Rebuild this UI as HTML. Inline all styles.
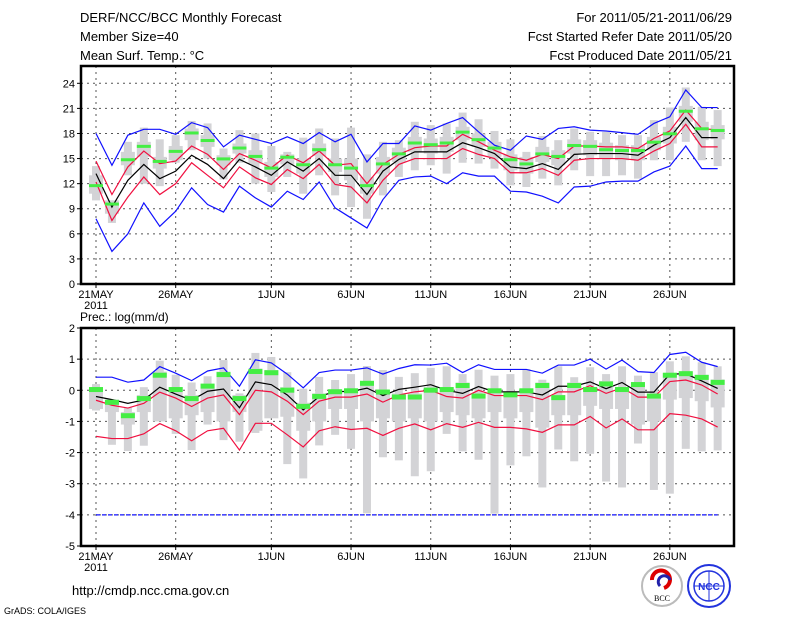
<!DOCTYPE html>
<html><head><meta charset="utf-8">
<style>
html,body{margin:0;padding:0;background:#fff;}
svg{display:block;font-family:"Liberation Sans",sans-serif;}
</style></head>
<body>
<svg id="chart" width="800" height="618" viewBox="0 0 800 618">
  <g font-size="13" fill="#000">
    <text x="80" y="22">DERF/NCC/BCC Monthly Forecast</text>
    <text x="80" y="41">Member Size=40</text>
    <text x="80" y="60">Mean Surf. Temp.: °C</text>
    <text x="732" y="22" text-anchor="end">For 2011/05/21-2011/06/29</text>
    <text x="732" y="41" text-anchor="end">Fcst Started Refer Date 2011/05/20</text>
    <text x="732" y="60" text-anchor="end">Fcst Produced Date 2011/05/21</text>
  </g>
  <g id="top"></g>
  <g id="bot"></g>
  <text x="80" y="321" font-size="12">Prec.: log(mm/d)</text>
  <text x="72" y="595" font-size="13">http://cmdp.ncc.cma.gov.cn</text>
  <text x="4" y="614" font-size="9">GrADS: COLA/IGES</text>
  <g>
    <circle cx="662" cy="586" r="20" fill="#fff" stroke="#bbb" stroke-width="2"/>
    <path d="M652 580 a9 9 0 1 1 12 8" fill="none" stroke="#d00" stroke-width="4"/>
    <path d="M670 580 a6 6 0 1 0 -10 6" fill="none" stroke="#22a" stroke-width="3"/>
    <text x="662" y="601" font-size="8" text-anchor="middle" font-family="Liberation Serif,serif">BCC</text>
  </g>
  <g>
    <circle cx="709" cy="586" r="21" fill="#fff" stroke="#23d" stroke-width="2"/>
    <ellipse cx="709" cy="586" rx="15" ry="15" fill="none" stroke="#23d" stroke-width="1.5"/>
    <line x1="694" y1="586" x2="724" y2="586" stroke="#23d"/>
    <line x1="709" y1="571" x2="709" y2="601" stroke="#23d"/>
    <text x="709" y="590" font-size="10" text-anchor="middle" fill="#23d" font-weight="bold">NCC</text>
  </g>
</svg>
<script>
// Temperature panel data (°C)
const tBlueHi=[18.0,14.2,17.8,18.5,18.5,17.9,19.3,18.7,16.4,17.8,17.3,16.8,17.6,16.8,18.1,17.0,17.9,14.6,16.8,16.8,18.9,18.4,19.2,19.9,18.2,16.6,16.0,17.7,17.3,18.6,18.8,18.4,18.3,18.1,17.9,19.2,20.0,23.2,21.1,21.1];
const tRedHi=[14.7,10.7,14.0,15.9,14.4,14.7,16.5,15.5,13.7,15.6,14.8,13.9,15.4,14.5,15.9,14.2,14.4,12.0,14.3,15.5,16.3,16.5,16.5,17.9,17.0,16.0,15.2,14.8,15.5,15.0,16.5,16.5,16.4,16.4,16.2,17.4,18.3,20.8,18.6,18.4];
const tMean=[13.2,9.2,12.4,14.3,12.6,13.5,15.4,14.3,12.6,14.9,14.0,13.0,14.6,13.5,15.0,13.0,13.0,10.7,13.5,14.9,15.8,15.8,15.8,16.9,16.3,15.6,14.0,13.8,14.4,13.7,15.5,15.6,15.6,15.6,15.4,16.6,17.5,19.9,17.5,17.5];
const tRedLo=[12.2,7.6,10.4,12.8,10.7,12.0,14.5,13.0,11.5,14.0,12.7,11.9,13.7,12.6,14.3,11.9,11.6,9.7,12.4,14.3,15.0,15.0,15.0,16.2,15.5,15.0,13.3,13.3,13.8,13.0,14.8,15.0,15.0,15.0,14.8,15.9,16.8,19.1,16.4,16.4];
const tBlueLo=[7.8,3.9,6.0,9.7,6.9,8.7,11.5,9.5,8.6,11.7,10.3,9.2,11.1,10.1,12.2,9.1,7.9,6.7,10.1,12.4,12.8,12.9,12.0,13.3,12.9,12.9,11.1,11.0,10.5,9.7,11.6,11.7,12.2,12.3,12.3,13.4,14.1,16.5,13.8,13.8];
const tGreen=[11.7,9.5,14.8,16.4,14.6,15.8,18.0,17.1,14.9,16.2,15.2,13.8,15.1,14.2,16.0,14.2,13.8,11.7,14.3,15.5,16.8,16.6,16.8,18.1,17.2,16.2,14.8,14.3,15.5,15.2,16.5,16.4,16.0,15.9,15.9,16.9,17.9,20.6,18.5,18.3];
const tMax=[14.1,10.0,17.0,18.7,17.3,17.8,19.5,19.2,16.2,18.4,18.0,16.5,15.8,17.5,18.6,17.4,18.7,15.5,17.0,17.2,19.4,19.0,19.2,20.5,19.7,18.3,17.3,15.8,17.7,17.2,18.6,18.2,18.2,17.8,17.8,19.6,21.1,23.5,21.2,20.8];
const tMin=[10.0,7.3,13.0,12.0,11.7,14.5,16.0,15.0,12.5,14.5,12.0,11.0,12.8,10.8,13.0,10.6,9.2,7.8,10.6,12.8,13.6,14.2,13.2,14.5,14.4,13.8,11.8,11.6,12.6,11.8,13.6,12.9,12.9,13.0,12.6,14.8,14.8,17.0,14.8,14.1];
const tBoxHi=[13.0,10.0,15.8,17.0,15.2,16.5,18.6,17.8,15.4,16.8,16.0,14.6,15.5,15.0,16.8,15.0,15.0,12.8,15.2,16.3,17.6,17.4,17.6,18.8,18.0,17.0,15.5,15.2,16.4,16.0,17.3,17.2,16.9,16.6,16.6,17.6,18.8,21.3,19.4,19.0];
const tBoxLo=[10.8,8.4,14.2,15.2,13.8,14.8,17.2,16.4,14.2,15.6,14.4,12.8,14.3,13.2,15.3,13.4,12.4,10.8,13.2,14.6,15.8,15.6,15.8,17.2,16.4,15.2,13.6,13.2,14.6,14.2,15.6,15.4,15.0,14.8,14.8,16.0,16.8,19.4,17.2,17.3];
const tTicks=[0,3,6,9,12,15,18,21,24];
// Precipitation panel data (log mm/d)
const pBlueHi=[0.42,0.42,0.26,0.33,0.76,0.55,0.31,0.62,0.72,0.13,0.98,0.88,0.52,0.08,0.57,0.65,0.65,0.72,0.52,0.70,0.82,0.81,0.87,0.57,0.82,0.67,0.67,0.67,0.55,0.81,0.81,1.0,0.68,0.97,0.60,0.57,1.15,1.22,0.90,0.76];
const pRedHi=[-0.32,-0.48,-0.57,-0.42,-0.06,-0.25,-0.52,-0.25,-0.15,-0.78,0.0,-0.05,-0.35,-0.78,-0.35,-0.22,-0.22,-0.12,-0.38,-0.15,-0.05,0.0,-0.2,-0.25,0.0,-0.17,-0.17,-0.17,-0.3,-0.05,-0.05,0.15,-0.1,0.08,-0.22,-0.22,0.28,0.33,0.17,-0.12];
const pMean=[-0.2,-0.3,-0.42,-0.31,0.1,-0.12,-0.32,-0.03,0.04,-0.56,0.27,0.18,-0.15,-0.63,-0.2,-0.04,-0.04,0.07,-0.17,0.03,0.1,0.18,0.0,-0.1,0.12,-0.05,-0.05,-0.05,-0.15,0.13,0.13,0.27,0.05,0.25,-0.06,-0.06,0.52,0.53,0.3,0.06];
const pRedLo=[-1.48,-1.55,-1.55,-1.4,-1.07,-1.3,-1.62,-1.3,-1.22,-1.92,-1.06,-1.06,-1.43,-1.82,-1.3,-1.17,-1.26,-1.22,-1.45,-1.22,-1.08,-1.27,-1.07,-1.19,-1.03,-1.19,-1.19,-1.24,-1.35,-1.11,-1.11,-0.84,-1.21,-0.92,-1.27,-1.27,-0.75,-0.8,-0.92,-1.18];
const pBlueLo=[-4,-4,-4,-4,-4,-4,-4,-4,-4,-4,-4,-4,-4,-4,-4,-4,-4,-4,-4,-4,-4,-4,-4,-4,-4,-4,-4,-4,-4,-4,-4,-4,-4,-4,-4,-4,-4,-4,-4,-4];
const pGreen=[0.04,-0.37,-0.8,-0.25,0.5,0.04,-0.25,0.15,0.52,-0.25,0.62,0.58,0.02,-0.5,-0.18,-0.03,0.0,0.24,-0.04,-0.2,-0.2,0.02,0.04,0.17,-0.17,0.0,-0.13,0.0,0.17,-0.22,0.17,0.04,0.22,0.04,0.2,-0.17,0.5,0.55,0.43,0.27];
const pMax=[0.2,-0.3,-0.55,0.1,0.95,0.5,0.25,0.45,0.97,-0.1,1.2,1.07,0.58,0.05,0.43,0.33,0.52,0.78,0.65,0.43,0.55,0.72,0.77,0.52,0.66,0.47,0.52,0.68,0.34,0.77,0.42,0.74,0.52,0.77,0.47,0.58,0.93,1.09,0.9,0.77];
const pMin=[-0.65,-1.75,-1.95,-1.78,-0.98,-1.4,-1.92,-1.1,-1.6,-1.65,-1.37,-0.88,-2.37,-2.83,-1.77,-1.43,-1.88,-3.95,-2.15,-2.25,-2.76,-2.6,-1.4,-1.96,-2.23,-3.96,-2.41,-2.12,-3.12,-1.9,-2.28,-2.04,-2.93,-3.12,-1.71,-3.2,-3.32,-1.88,-1.96,-1.93];
const pBoxHi=[0.1,-0.3,-0.7,-0.15,0.6,0.1,-0.15,0.2,0.6,-0.15,0.7,0.65,0.1,-0.4,-0.1,0.0,0.05,0.3,0.0,-0.1,-0.1,0.1,0.1,0.25,-0.1,0.05,-0.05,0.05,0.25,-0.15,0.25,0.1,0.3,0.1,0.25,-0.1,0.55,0.6,0.5,0.35];
const pBoxLo=[-0.6,-0.7,-1.1,-0.7,-1.0,-0.9,-0.8,-0.7,-1.0,-0.7,-1.3,-0.9,-0.85,-1.3,-1.0,-0.6,-0.6,-1.0,-0.9,-1.0,-0.9,-1.0,-0.7,-0.8,-0.9,-0.7,-0.9,-0.7,-1.2,-0.8,-0.8,-0.5,-0.6,-0.6,-1.1,-1.0,-0.3,-0.25,-0.35,-0.55];
const pTicks=[-5,-4,-3,-2,-1,0,1,2];
// x axis
const dateLabels=["21MAY","26MAY","1JUN","6JUN","11JUN","16JUN","21JUN","26JUN"];
const dateIdx=[0,5,11,16,21,26,31,36];

const NS="http://www.w3.org/2000/svg";
const X0=96, DX=15.94, LEFT=81, RIGHT=734;
function xs(i){return X0+i*DX;}
function mk(tag,attrs,parent){const e=document.createElementNS(NS,tag);for(const k in attrs)e.setAttribute(k,attrs[k]);parent.appendChild(e);return e;}

function panel(g,top,bottom,vmin,vmax,ticks,d,frameTop){
  const ys=v=>bottom-(v-vmin)/(vmax-vmin)*(bottom-top);
  // grid
  ticks.forEach(t=>{
    if(t===vmin)return;
    const l=mk('line',{x1:LEFT,x2:RIGHT,y1:ys(t),y2:ys(t),stroke:'#555','stroke-dasharray':'2,4','stroke-width':1},g);
    
    
  });
  dateIdx.forEach(i=>{
    const l=mk('line',{x1:xs(i),x2:xs(i),y1:frameTop,y2:bottom,stroke:'#555','stroke-dasharray':'2,4','stroke-width':1},g);
    
    
  });
  // bars
  for(let i=0;i<d.max.length;i++){
    const x=xs(i);
    const r1=mk('rect',{x:x-4,y:ys(d.max[i]),width:8,height:ys(d.min[i])-ys(d.max[i]),fill:'#d3d3d6'},g);
    
    
    const r2=mk('rect',{x:x-7,y:ys(d.bhi[i]),width:14,height:Math.max(1,ys(d.blo[i])-ys(d.bhi[i])),fill:'#d3d3d6'},g);
    
    
  }
  const line=(arr,col,name,dash)=>{
    const p=mk('polyline',{points:arr.map((v,i)=>xs(i)+','+ys(v)).join(' '),fill:'none',stroke:col,'stroke-width':1.2},g);
    if(dash)p.setAttribute('stroke-dasharray',dash);
    
    
  };
  line(d.bhiL,'#1010ff','upper-blue-line');
  line(d.rhi,'#f01040','upper-red-line');
  line(d.mean,'#000','ensemble-mean-line');
  line(d.rlo,'#f01040','lower-red-line');
  line(d.blo2,'#1010ff','lower-blue-line',d.blueDash);
  for(let i=0;i<d.green.length;i++){
    const r=mk('rect',{x:xs(i)-7,y:ys(d.green[i])-2,width:14,height:d.gh,fill:'#44ee44'},g);
    
    
  }
  // frame
  const f=mk('rect',{x:LEFT,y:frameTop,width:RIGHT-LEFT,height:bottom-frameTop,fill:'none',stroke:'#000','stroke-width':2.5},g);
  
  
  // y ticks
  ticks.forEach(t=>{
    const tk=mk('line',{x1:LEFT-4,x2:LEFT,y1:ys(t),y2:ys(t),stroke:'#000'},g);
    
    
    const tx=mk('text',{x:LEFT-6,y:ys(t)+4,'font-size':11,'text-anchor':'end'},g);
    tx.textContent=t;
    
    
  });
  dateIdx.forEach((i,k)=>{
    const tk=mk('line',{x1:xs(i),x2:xs(i),y1:bottom,y2:bottom+4,stroke:'#000'},g);
    
    
    const tx=mk('text',{x:xs(i),y:bottom+14,'font-size':11,'text-anchor':'middle'},g);
    tx.textContent=dateLabels[k];
    
    
  });
  const yr=mk('text',{x:xs(0),y:bottom+25,'font-size':11,'text-anchor':'middle'},g);
  yr.textContent='2011';
  
  
}
panel(document.getElementById('top'),83.3-8.36*2.1,284,0,24*(284-66)/(284-83.3)*0+26.1,tTicks,
  {max:tMax,min:tMin,bhi:tBoxHi,blo:tBoxLo,bhiL:tBlueHi,rhi:tRedHi,mean:tMean,rlo:tRedLo,blo2:tBlueLo,green:tGreen,gh:3},66);
panel(document.getElementById('bot'),328,546,-5,2,pTicks,
  {max:pMax,min:pMin,bhi:pBoxHi,blo:pBoxLo,bhiL:pBlueHi,rhi:pRedHi,mean:pMean,rlo:pRedLo,blo2:pBlueLo,green:pGreen,gh:5,blueDash:'4,2'},328);
</script>
</body></html>
